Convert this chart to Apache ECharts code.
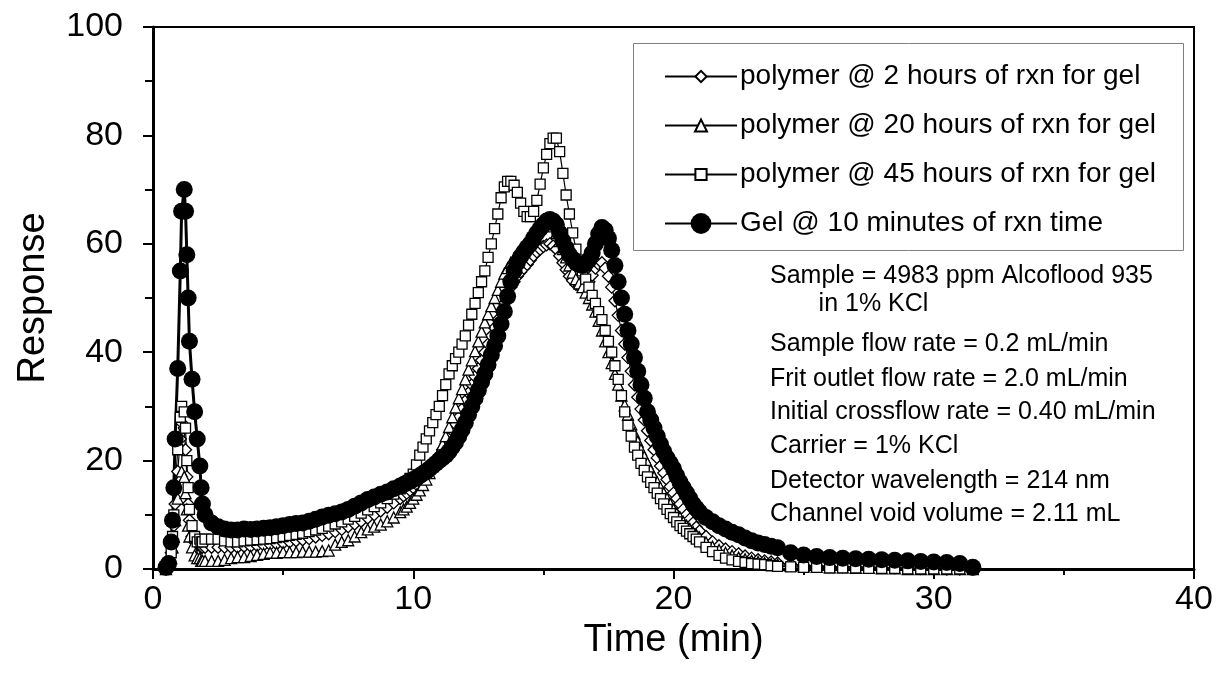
<!DOCTYPE html>
<html>
<head>
<meta charset="utf-8">
<script src="https://cdn.jsdelivr.net/npm/echarts@6/dist/echarts.min.js"></script>
<style>
html,body{margin:0;padding:0;background:#fff;}
#chart{width:1219px;height:683px;}
</style>
</head>
<body>
<div id="chart"></div>
<script>
// ---- data (time in minutes, response) ----
const time = [
 0.5,0.6,0.7,0.75,0.8,0.85,0.95,1.05,1.1,1.2,1.25,1.3,1.35,1.4,1.5,1.6,1.7,1.8,1.85,1.9,2.0,
 2.25,2.5,2.75,3,3.25,3.5,3.75,4,4.25,4.5,4.75,5,5.25,5.5,5.75,6,6.25,6.5,6.75,7,7.25,7.5,7.75,8,8.25,8.5,8.75,9,9.25,
 9.5,9.625,9.75,9.875,
 10,10.125,10.25,10.375,10.5,10.625,10.75,10.875,
 11,11.125,11.25,11.375,11.5,11.625,11.75,11.875,
 12,12.125,12.25,12.375,12.5,12.625,12.75,12.875,
 13,13.125,13.25,13.375,13.5,13.625,13.75,13.875,
 14,14.125,14.25,14.375,14.5,14.625,14.75,14.875,
 15,15.125,15.25,15.375,15.5,15.625,15.75,15.875,
 16,16.125,16.25,16.375,16.5,16.625,16.75,16.875,
 17,17.125,17.25,17.375,17.5,17.625,17.75,17.875,
 18,18.125,18.25,18.375,18.5,18.625,18.75,18.875,
 19,19.125,19.25,19.375,19.5,19.625,19.75,19.875,
 20,20.125,20.25,20.375,20.5,20.625,20.75,20.875,
 21,
 21.25,21.5,21.75,22,22.25,22.5,22.75,23,23.25,23.5,23.75,24,
 24.5,25,25.5,26,26.5,27,27.5,28,28.5,29,29.5,30,30.5,31,31.5];

const polymer2h = [
 0,1,3,5,8,12,18,24,27,26,22,17,12,9,6,5,4.5,4.5,4,4,4,
 4,4,4,4,4,4.2,4.2,4.3,4.4,4.5,4.6,4.8,5,5.2,5.4,5.6,5.9,6.2,6.5,6.9,7.3,7.8,8.3,8.8,9.4,10,10.7,11.4,12.2,
 13,13.5,14,14.5,
 15,15.6,16.2,16.8,17.5,18.2,19,20,
 21,22,23,24.2,25.5,26.7,28,29.5,
 31,32.5,34,35.5,37,38.5,40,41.5,
 43,44.5,46,47.5,49,50.5,52,53,
 54,54.8,55.5,56.2,57,57.8,58.5,59,
 59.5,59.8,60,59.6,59,57.8,56.5,55.2,
 54,53.2,52.5,52.2,52,52.4,53,54.2,
 55.5,56.2,56.5,55.5,54,52,49.5,46.8,
 44,41.5,39,36.5,34,31.7,29.5,27.5,
 25.5,23.7,22,20.5,19,17.7,16.5,15.2,
 14,13,12,11,10,9.2,8.5,7.7,
 7,
 6,5,4.3,3.7,3.2,2.8,2.4,2,1.7,1.5,1.3,1.1,
 0.9,0.7,0.6,0.5,0.4,0.4,0.3,0.3,0.2,0.2,0.1,0.1,0,0,0];

const polymer20h = [
 0,1,2,4,6,9,13,17,18,17,14,11,8,6,4,2.5,2,2,1.5,1.5,1.5,
 1.5,1.5,1.7,2,2.2,2.2,2.4,2.6,2.8,3,3,3.1,3.1,3.1,3.2,3.2,3.2,3.3,3.4,4.5,5,5.3,6,6.8,7.3,7.8,8.2,8.8,9.5,
 10.5,11,11.5,12.2,
 13,13.7,14.5,15.5,16.5,17.7,19,20.2,
 21.5,23,24.5,26.2,28,29.8,31.5,33.2,
 35,36.8,38.5,40.2,42,43.8,45.5,47,
 48.5,50,51.5,53,54.5,55.5,56.5,57.3,
 58,58.8,59.5,60.2,61,61.8,62.5,63,
 63.5,63.8,64,63.2,62,60.5,59,57.5,
 56,54.7,53.5,52.7,52,51,50,48.8,
 47.5,45.8,44,42,40,38,36,34,
 32,30.2,28.5,26.7,25,23.5,22,20.7,
 19.5,18.2,17,16,15,14,13,12,
 11,10.2,9.5,8.7,8,7.4,6.8,6.3,
 5.8,
 4.9,4.1,3.5,3,2.5,2.1,1.8,1.5,1.3,1.1,0.9,0.8,
 0.6,0.5,0.4,0.3,0.3,0.2,0.2,0.1,0.1,0,0,0,0,0,0];

const polymer45h = [
 0,1,3,6,10,15,22,28,30,29,26,20,15,11,8,6,5,5.5,5,5,5.5,
 5.5,5.5,5.2,5,5,5.2,5.3,5.4,5.5,5.6,5.8,6,6.2,6.4,6.6,6.9,7.2,7.5,7.9,8.3,8.7,9.2,9.7,10.3,10.9,11.5,12.2,13,13.8,
 14.8,15.4,16,16.7,
 17.5,19.2,21,22.5,24,25.5,27,28.5,
 30,32,34,36,37.5,38.8,40,41.5,
 43,45,47,49,51,53,55,57.5,
 60,62.8,65.5,68.5,70.5,71.5,71.5,70.8,
 69.5,67.5,66,65,65,66,68,71,
 74,76.5,78.5,79.5,79.5,77,73,69,
 65.5,62,59,57,55,53.5,52,50.5,
 49,47.5,46,44,42,40,37.5,35,
 32,29,26.5,24.5,22.5,21,19.5,18.2,
 17,16,15,14,13,12,11,10.2,
 9.5,8.7,8,7.5,7,6.5,6,5.5,
 5,
 4,3.2,2.5,2,1.7,1.4,1.2,1,0.9,0.8,0.6,0.5,
 0.4,0.3,0.3,0.2,0.2,0.2,0.1,0.1,0.1,0,0,0,0,0,0];

const gel10min = [
 0.3,1,5,9,15,24,37,55,66,70,66,58,50,42,35,29,24,19,15,12,10,
 8.5,7.8,7.4,7.2,7.2,7.4,7.3,7.4,7.5,7.6,7.8,8,8.2,8.4,8.5,8.8,9.2,9.6,9.9,10.2,10.5,11,11.6,12.2,12.8,13.3,13.8,14.2,14.8,
 15.3,15.6,15.9,16.2,
 16.5,16.8,17.2,17.6,18,18.5,19,19.5,
 20,20.5,21,21.7,22.5,23.4,24.5,25.7,
 27,28.5,30,31.5,33,34.5,36,37.7,
 39.5,41.2,43,45.2,47.5,50.3,53,55,
 56.5,57.6,58.5,59.3,60,61,62,62.8,
 63.5,64.2,64.5,64.2,63.5,62,60.5,59.2,
 58,57.2,56.5,56.2,56,56.3,57,58.3,
 60,61.8,63,62.5,61,58.8,56,53,
 50,47,44,41.5,39,36.5,34,31.5,
 29,27.5,26,24.5,23,21.7,20.5,19.5,
 18.5,17.2,16,15,14,13,12,11.2,
 10.5,
 9.5,8.7,8,7.4,6.8,6.3,5.7,5.2,4.8,4.5,4.2,3.9,
 3.0,2.6,2.3,2.1,2.0,1.9,1.8,1.7,1.6,1.5,1.4,1.3,1.2,1.0,0.3];

const seriesNames = [
  'polymer @ 2 hours of rxn for gel',
  'polymer @ 20 hours of rxn for gel',
  'polymer @ 45 hours of rxn for gel',
  'Gel @ 10 minutes of rxn time'
];
const notes = [
  'Sample = 4983 ppm Alcoflood 935',
  '       in 1% KCl',
  'Sample flow rate = 0.2 mL/min',
  'Frit outlet flow rate = 2.0 mL/min',
  'Initial crossflow rate = 0.40 mL/min',
  'Carrier = 1% KCl',
  'Detector wavelength = 214 nm',
  'Channel void volume = 2.11 mL'
];
const xTicks = {min: 0, max: 40, step: 10};
const yTicks = {min: 0, max: 100, step: 20};

// ---- build ----
const FONT = '"Liberation Sans", Arial, sans-serif';
const pair = vals => time.map((t, i) => [t, vals[i]]);
const openStyle = {color: '#fff', borderColor: '#000', borderWidth: 1.3};

const series = [
  {name: seriesNames[0], data: pair(polymer2h), symbol: 'diamond', symbolSize: 12, itemStyle: openStyle, lineStyle: {color: '#000', width: 1.2}},
  {name: seriesNames[1], data: pair(polymer20h), symbol: 'triangle', symbolSize: 11, itemStyle: openStyle, lineStyle: {color: '#000', width: 1.2}},
  {name: seriesNames[2], data: pair(polymer45h), symbol: 'rect', symbolSize: 10, itemStyle: openStyle, lineStyle: {color: '#000', width: 1.2}},
  {name: seriesNames[3], data: pair(gel10min), symbol: 'circle', symbolSize: 17, itemStyle: {color: '#000'}, lineStyle: {color: '#000', width: 3}}
].map(s => Object.assign({type: 'line', showAllSymbol: true, animation: false, clip: false, emphasis: {disabled: true}}, s));

const legendTextCenters = [75, 124, 173, 222];
const legendIconH = [14, 15, 14, 26];
const legends = seriesNames.map((n, i) => ({
  data: [n], left: 664, top: legendTextCenters[i] - 12.5, orient: 'vertical',
  itemWidth: 72, itemHeight: legendIconH[i], itemGap: 4, padding: 0,
  selectedMode: false,
  textStyle: {fontFamily: FONT, fontSize: 28, color: '#000', padding: [0, 0, 0, -2]}
}));

const noteCenters = [277, 305, 345, 380, 413, 447, 482, 515];
const graphics = [
  {type: 'rect', shape: {x: 633.5, y: 43.5, width: 550, height: 207}, style: {fill: 'none', stroke: '#808080', lineWidth: 1}, z: 10}
].concat(notes.map((t, i) => ({
  type: 'text', left: 770, top: noteCenters[i] - 13,
  style: {text: t, font: '25px ' + FONT, fill: '#000'}, z: 10
})));

const axisCommon = {
  type: 'value',
  axisLine: {show: true, lineStyle: {color: '#000', width: 3}},
  axisTick: {show: true, length: 10, lineStyle: {color: '#000', width: 2}},
  splitLine: {show: false},
  nameLocation: 'middle',
  nameTextStyle: {fontFamily: FONT, fontSize: 38, color: '#000'}
};

const option = {
  backgroundColor: '#fff',
  animation: false,
  grid: {left: 153, right: 25, top: 27, bottom: 114, show: true, borderColor: '#000', borderWidth: 2},
  xAxis: Object.assign({}, axisCommon, {
    min: xTicks.min, max: xTicks.max, interval: xTicks.step, name: 'Time (min)', nameGap: 48,
    minorTick: {show: true, splitNumber: 2, length: 6, lineStyle: {color: '#000', width: 2}},
    axisLabel: {fontFamily: FONT, fontSize: 34, color: '#000', margin: 14}
  }),
  yAxis: Object.assign({}, axisCommon, {
    min: yTicks.min, max: yTicks.max, interval: yTicks.step, name: 'Response', nameGap: 100,
    minorTick: {show: true, splitNumber: 2, length: 8, lineStyle: {color: '#000', width: 2}},
    axisLabel: {fontFamily: FONT, fontSize: 34, color: '#000', margin: 30}
  }),
  legend: legends,
  graphic: graphics,
  series: series
};

const chart = echarts.init(document.getElementById('chart'), null, {renderer: 'canvas'});
chart.setOption(option);
</script>
</body>
</html>
